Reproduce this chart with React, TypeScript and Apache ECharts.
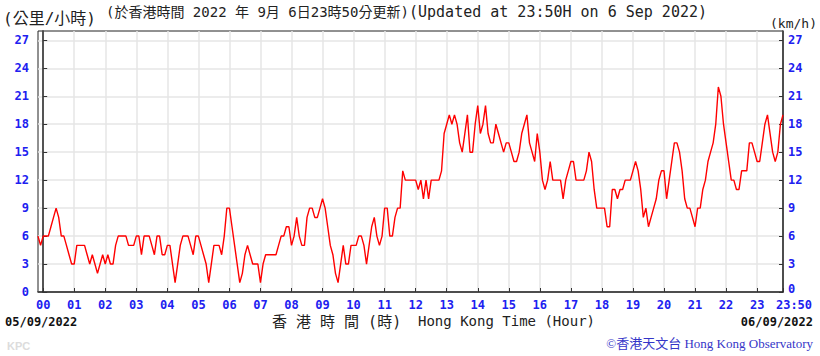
import React, { useEffect, useRef } from 'react';
import * as echarts from 'echarts';

// Wind speed (km/h), one reading every 5 minutes, starting at 23:50 of 05/09/2022 (-10 min)
const startMinute = -10;
const stepMinutes = 5;
const windSpeed: number[] = [
  6, 5,
  6, 6, 6, 7, 8, 9, 8, 6, 6, 5, 4, 3, // 00
  3, 5, 5, 5, 5, 4, 3, 4, 3, 2, 3, 4, // 01
  3, 4, 3, 3, 5, 6, 6, 6, 6, 5, 5, 5, // 02
  6, 6, 4, 6, 6, 6, 5, 4, 6, 6, 4, 4, // 03
  5, 5, 3, 1, 3, 5, 6, 6, 6, 5, 4, 6, // 04
  6, 5, 4, 3, 1, 3, 5, 5, 5, 4, 6, 9, // 05
  9, 7, 5, 3, 1, 2, 4, 5, 4, 3, 3, 3, // 06
  1, 3, 4, 4, 4, 4, 4, 5, 6, 6, 7, 7, // 07
  5, 6, 8, 6, 5, 5, 8, 9, 9, 8, 8, 9, // 08
  10, 9, 7, 5, 4, 2, 1, 3, 5, 3, 3, 5, // 09
  5, 5, 6, 6, 5, 3, 5, 7, 8, 6, 5, 6, // 10
  9, 9, 6, 6, 8, 9, 9, 13, 12, 12, 12, 12, // 11
  12, 11, 12, 10, 12, 10, 12, 12, 12, 12, 13, 17, // 12
  18, 19, 18, 19, 18, 16, 15, 17, 19, 15, 15, 18, // 13
  20, 17, 18, 20, 17, 16, 16, 18, 17, 16, 15, 16, // 14
  16, 15, 14, 14, 15, 17, 18, 19, 16, 15, 14, 17, // 15
  15, 12, 11, 12, 14, 12, 12, 12, 12, 10, 12, 13, // 16
  14, 14, 12, 12, 12, 12, 13, 15, 14, 11, 9, 9, // 17
  9, 9, 7, 7, 11, 11, 10, 11, 11, 12, 12, 12, // 18
  13, 14, 13, 11, 8, 9, 7, 8, 9, 10, 12, 13, // 19
  13, 10, 12, 14, 16, 16, 15, 13, 10, 9, 9, 8, // 20
  7, 9, 9, 11, 12, 14, 15, 16, 18, 22, 21, 18, // 21
  16, 14, 12, 12, 11, 11, 13, 13, 13, 16, 16, 15, // 22
  14, 14, 16, 18, 19, 17, 15, 14, 15, 18, 19, // 23 (to 23:50)
];

const hourTicks: number[] = [
  0, 60, 120, 180, 240, 300, 360, 420, 480, 540, 600, 660, 720, 780, 840, 900,
  960, 1020, 1080, 1140, 1200, 1260, 1320, 1380, 1430,
];
const hourLabels: string[] = [
  '00', '01', '02', '03', '04', '05', '06', '07', '08', '09', '10', '11', '12',
  '13', '14', '15', '16', '17', '18', '19', '20', '21', '22', '23', '23:50',
];
const speedTicks: number[] = [0, 3, 6, 9, 12, 15, 18, 21, 24, 27];

const MONO = "'DejaVu Sans Mono', 'Noto Sans CJK TC', monospace";
const BLUE = '#2020f0';

export default function App() {
  const ref = useRef<HTMLDivElement>(null);

  useEffect(() => {
    if (!ref.current) return;
    const chart = echarts.init(ref.current, null, { renderer: 'svg' });
    const data = windSpeed.map((v, i) => [startMinute + i * stepMinutes, v]);

    const labelFont = {
      color: BLUE,
      fontFamily: MONO,
      fontWeight: 'bold',
      fontSize: 12,
    };

    const yAxisCommon = {
      type: 'value',
      min: 0,
      max: 28,
      axisLine: { show: true, lineStyle: { color: '#222', width: 1.5 } },
      axisTick: {
        show: true,
        inside: true,
        length: 4,
        customValues: speedTicks,
        lineStyle: { color: '#333' },
      },
    };

    chart.setOption({
      animation: false,
      grid: {
        left: 38,
        right: 37,
        top: 31,
        bottom: 64,
        show: true,
        borderColor: '#222',
        borderWidth: 1,
        backgroundColor: 'transparent',
      },
      xAxis: {
        type: 'value',
        min: -10,
        max: 1430,
        axisLine: { show: true, onZero: false, lineStyle: { color: '#222', width: 1.5 } },
        axisTick: {
          show: true,
          inside: true,
          length: 4,
          customValues: hourTicks,
          lineStyle: { color: '#333' },
        },
        axisLabel: {
          customValues: hourTicks,
          margin: 7,
          ...labelFont,
          formatter: (v: number) => {
            const idx = hourTicks.indexOf(v);
            const s = idx >= 0 ? hourLabels[idx] : '';
            return v === 1430 ? '{e|' + s + '}' : s;
          },
          rich: {
            e: { padding: [0, 0, 0, 22], ...labelFont },
          },
        },
        splitLine: { show: true, lineStyle: { color: '#e6e6e6', width: 1.5 } },
      },
      yAxis: [
        {
          ...yAxisCommon,
          position: 'left',
          axisLabel: { customValues: speedTicks, margin: 9, ...labelFont },
          splitLine: { show: true, lineStyle: { color: '#e6e6e6', width: 1.5 } },
        },
        {
          ...yAxisCommon,
          position: 'right',
          axisLabel: {
            customValues: speedTicks,
            margin: 5,
            ...labelFont,
            formatter: (v: number) => (v === 0 ? '{z|0}' : String(v)),
            rich: { z: { padding: [0, 0, 7, 0], ...labelFont } },
          },
          splitLine: { show: false },
        },
      ],
      series: [
        {
          type: 'line',
          data,
          showSymbol: false,
          silent: true,
          lineStyle: { color: '#ff0000', width: 1.4 },
          itemStyle: { color: '#ff0000' },
        },
      ],
      graphic: [
        {
          type: 'text', left: 3, top: 10,
          style: { text: '(公里/小時)', font: '16px ' + MONO, fill: '#222' },
        },
        {
          type: 'text', left: 106, top: 5,
          style: { text: '(於香港時間 2022 年 9月 6日23時50分更新)', font: '14px ' + MONO, fill: '#222' },
        },
        {
          type: 'text', left: 409, top: 4,
          style: { text: '(Updated at 23:50H on 6 Sep 2022)', font: '15px ' + MONO, fill: '#222' },
        },
        {
          type: 'text', right: 3, top: 17,
          style: { text: '(km/h)', font: '13px ' + MONO, fill: '#222' },
        },
        {
          type: 'text', left: 5, top: 316,
          style: { text: '05/09/2022', font: 'bold 12px ' + MONO, fill: '#111' },
        },
        {
          type: 'text', left: 272, top: 314,
          style: { text: '香 港 時 間 (時)', font: '15px ' + MONO, fill: '#222' },
        },
        {
          type: 'text', left: 418, top: 314,
          style: { text: 'Hong Kong Time (Hour)', font: '14px ' + MONO, fill: '#222' },
        },
        {
          type: 'text', right: 7, top: 316,
          style: { text: '06/09/2022', font: 'bold 12px ' + MONO, fill: '#111' },
        },
        {
          type: 'text', left: 7, top: 340,
          style: { text: 'KPC', font: 'bold 11px sans-serif', fill: '#dcdcdc' },
        },
        {
          type: 'text', right: 7, top: 337,
          style: {
            text: '©香港天文台 Hong Kong Observatory',
            font: "13px 'Liberation Serif', 'Noto Sans CJK TC', serif",
            fill: '#3535c8',
          },
        },
      ],
    });

    return () => chart.dispose();
  }, []);

  return (
    <div
      ref={ref}
      style={{ position: 'fixed', left: 0, top: 0, width: 820, height: 356, background: '#fff' }}
    />
  );
}
